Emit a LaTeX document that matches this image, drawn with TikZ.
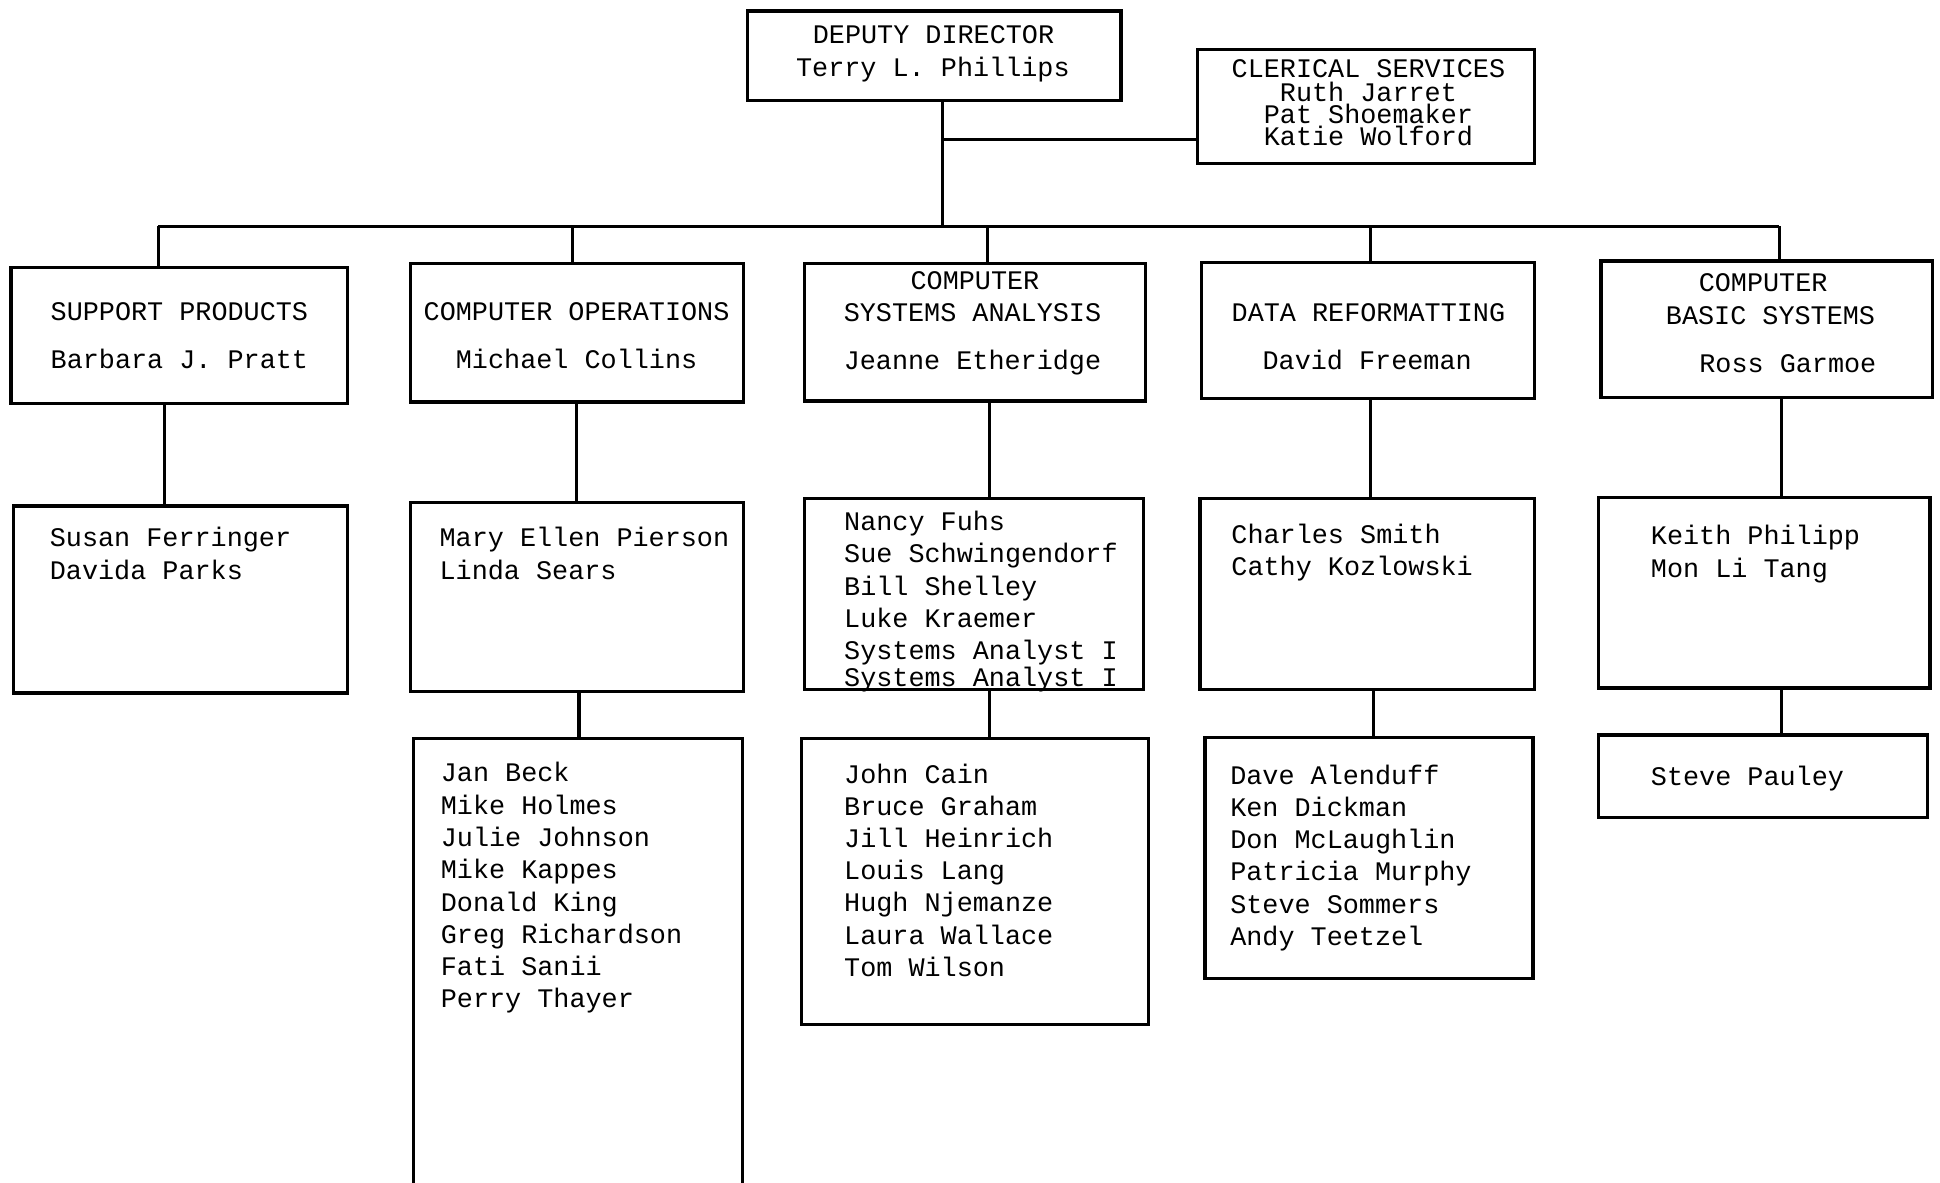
\documentclass[tikz,border=0pt]{standalone}
\usepackage{fontspec}
\setmainfont{Liberation Mono}
\usetikzlibrary{fit}
\newcommand{\namelist}[5]{%
  \foreach \t [count=\i] in {#5} {
    \node[txt, anchor=base west] (#1-\i) at (#2, {#3+(\i-1)*#4}) {\t};
  }}
\begin{document}
\begin{tikzpicture}[x=0.6pt,y=-0.6pt,
  box/.style={draw, line width=1.6pt, inner sep=0pt, rectangle},
  txt/.style={inner sep=0pt, font=\fontsize{13}{15.6}\selectfont},
  tight/.style={text height=7.6pt, text depth=0.6pt},
  link/.style={line width=1.5pt}]
\useasboundingbox (0,0) rectangle (1568,956);

% ---------- boxes ----------
\node[box, fit={(604,9) (906,81)}] (dd) {};
\node[box, fit={(968,40) (1240,132)}] (cs) {};

\node[box, fit={(9,216) (281,326)}] (sp) {};
\node[box, fit={(332,213) (601,325)}] (co) {};
\node[box, fit={(650,213) (926,324)}] (csa) {};
\node[box, fit={(971,212) (1240,322)}] (dr) {};
\node[box, fit={(1294,211) (1562,321)}] (cbs) {};

\node[box, fit={(11,409) (281,560)}] (sp2) {};
\node[box, fit={(332,406) (601,559)}] (co2) {};
\node[box, fit={(650,403) (924,557)}] (csa2) {};
\node[box, fit={(970,403) (1240,557)}] (dr2) {};
\node[box, fit={(1292,402) (1560,556)}] (cbs2) {};

\node[box, fit={(334,597) (600,975)}] (co3) {};
\node[box, fit={(648,597) (928,828)}] (csa3) {};
\node[box, fit={(974,596) (1239,791)}] (dr3) {};
\node[box, fit={(1292,594) (1558,661)}] (cbs3) {};

% ---------- connectors ----------
\coordinate (j0) at (762,183);
\coordinate (j1) at (762,113);
\draw[link] (dd.south -| j0) -- (j0);
\draw[link] (j1) -- (j1 -| cs.west);
\coordinate (barL) at (128,183);
\coordinate (barR) at (1438,183);
\coordinate (b2) at (463,183);
\coordinate (b3) at (798,183);
\coordinate (b4) at (1108,183);
\draw[link] (barL) -- (barR);
\draw[link] (barL) -- (barL |- sp.north);
\draw[link] (b2) -- (b2 |- co.north);
\draw[link] (b3) -- (b3 |- csa.north);
\draw[link] (b4) -- (b4 |- dr.north);
\draw[link] (barR) -- (barR |- cbs.north);

\coordinate (v1) at (133,0);
\coordinate (v2) at (466,0);
\coordinate (v3) at (800,0);
\coordinate (v4) at (1108,0);
\coordinate (v5) at (1440,0);
\draw[link] (sp.south -| v1) -- (sp2.north -| v1);
\draw[link] (co.south -| v2) -- (co2.north -| v2);
\draw[link] (csa.south -| v3) -- (csa2.north -| v3);
\draw[link] (dr.south -| v4) -- (dr2.north -| v4);
\draw[link] (cbs.south -| v5) -- (cbs2.north -| v5);

\coordinate (w2) at (468,0);
\coordinate (w3) at (800,0);
\coordinate (w4) at (1110,0);
\coordinate (w5) at (1440,0);
\draw[link] (co2.south -| w2) -- (co3.north -| w2);
\draw[link] (csa2.south -| w3) -- (csa3.north -| w3);
\draw[link] (dr2.south -| w4) -- (dr3.north -| w4);
\draw[link] (cbs2.south -| w5) -- (cbs3.north -| w5);

% ---------- texts ----------
\node[txt, anchor=base] (dd-1) at (754.5,35) {DEPUTY DIRECTOR};
\node[txt, anchor=base] (dd-2) at (754,62) {Terry L. Phillips};

\node[txt, tight, anchor=base] (cs-1) at (1106,63) {CLERICAL SERVICES};
\node[txt, tight, anchor=base] (cs-2) at (1106,82) {Ruth Jarret};
\node[txt, tight, anchor=base] (cs-3) at (1106,100) {Pat Shoemaker};
\node[txt, tight, anchor=base] (cs-4) at (1106,118) {Katie Wolford};

\node[txt, anchor=base] (sp-1) at (145,259) {SUPPORT PRODUCTS};
\node[txt, anchor=base] (sp-2) at (145,298) {Barbara J. Pratt};

\node[txt, anchor=base] (co-1) at (466,259) {COMPUTER OPERATIONS};
\node[txt, anchor=base] (co-2) at (466,298) {Michael Collins};

\node[txt, anchor=base] (csa-1) at (788,234) {COMPUTER};
\node[txt, anchor=base] (csa-2) at (786,260) {SYSTEMS ANALYSIS};
\node[txt, anchor=base] (csa-3) at (786,299) {Jeanne Etheridge};

\node[txt, anchor=base] (dr-1) at (1106,260) {DATA REFORMATTING};
\node[txt, anchor=base] (dr-2) at (1105,299) {David Freeman};

\node[txt, anchor=base] (cbs-1) at (1425,236) {COMPUTER};
\node[txt, anchor=base] (cbs-2) at (1431,262) {BASIC SYSTEMS};
\node[txt, anchor=base] (cbs-3) at (1445,301) {Ross Garmoe};

\namelist{spl}{40}{442}{26}{Susan Ferringer, Davida Parks}
\namelist{col}{355}{442}{26}{Mary Ellen Pierson, Linda Sears}
\namelist{csal}{682}{429}{26}{Nancy Fuhs, Sue Schwingendorf, Bill Shelley, Luke Kraemer, Systems Analyst I}
\node[txt, anchor=base west] (csal-6) at (682,555) {Systems Analyst I};
\namelist{drl}{995}{439}{26}{Charles Smith, Cathy Kozlowski}
\namelist{cbsl}{1334}{440}{27}{Keith Philipp, Mon Li Tang}

\namelist{co3l}{356}{632}{26.1}{Jan Beck, Mike Holmes, Julie Johnson, Mike Kappes, Donald King, Greg Richardson, Fati Sanii, Perry Thayer}
\namelist{csa3l}{682}{633}{26}{John Cain, Bruce Graham, Jill Heinrich, Louis Lang, Hugh Njemanze, Laura Wallace, Tom Wilson}
\namelist{dr3l}{994}{634}{26}{Dave Alenduff, Ken Dickman, Don McLaughlin, Patricia Murphy, Steve Sommers, Andy Teetzel}
\node[txt, anchor=base west] (cbs3l-1) at (1334,635) {Steve Pauley};
\end{tikzpicture}
\end{document}
